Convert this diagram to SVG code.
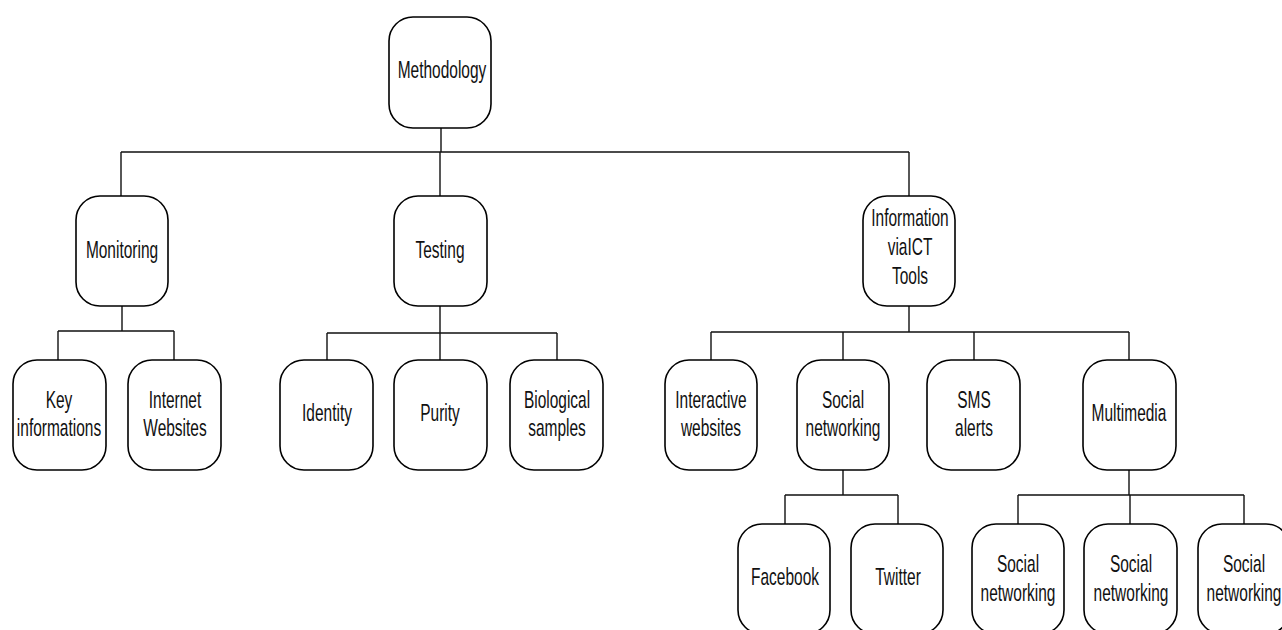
<svg xmlns="http://www.w3.org/2000/svg" width="1282" height="630" viewBox="0 0 1282 630">
<style>
.box{fill:#fff;stroke:#000;stroke-width:1.6}
.lbl{font-family:"Liberation Sans",Arial,sans-serif;font-size:24px;fill:#111;text-anchor:middle}
.conn{fill:none;stroke:#111;stroke-width:1.4}
</style>
<rect width="1282" height="630" fill="#fff"/>
<g id="connectors" class="conn">
<path d="M441 128V152M121 152H909M121 152V196M440 152V196M909 152V196"/>
<path d="M122 306V331M58 331H174M58 331V360M174 331V360"/>
<path d="M440 306V333M327 333H557M327 333V360M440 333V360M557 333V360"/>
<path d="M909 306V332M711 332H1129M711 332V360M843 332V360M974 332V360M1129 332V360"/>
<path d="M843 470V495M785 495H898M785 495V524M898 495V524"/>
<path d="M1129 470V495M1018 495H1244M1018 495V524M1130 495V524M1244 495V524"/>
</g>
<g id="methodology"><rect class="box" x="389" y="17" width="102" height="111" rx="24"/><text class="lbl" transform="translate(442 78) scale(0.645 1)">Methodology</text></g>
<g id="monitoring"><rect class="box" x="76" y="196" width="92" height="110" rx="24"/><text class="lbl" transform="translate(122 258) scale(0.645 1)">Monitoring</text></g>
<g id="testing"><rect class="box" x="394" y="196" width="93" height="110" rx="24"/><text class="lbl" transform="translate(440 258) scale(0.645 1)">Testing</text></g>
<g id="information"><rect class="box" x="863" y="196" width="92" height="110" rx="24"/><text class="lbl" transform="translate(910 226) scale(0.645 1)"><tspan x="0" y="0">Information</tspan><tspan x="0" y="29">viaICT</tspan><tspan x="0" y="58">Tools</tspan></text></g>
<g id="key-informations"><rect class="box" x="13" y="360" width="93" height="110" rx="24"/><text class="lbl" transform="translate(59 408) scale(0.645 1)"><tspan x="0" y="0">Key</tspan><tspan x="0" y="28">informations</tspan></text></g>
<g id="internet-websites"><rect class="box" x="128" y="360" width="93" height="110" rx="24"/><text class="lbl" transform="translate(175 408) scale(0.645 1)"><tspan x="0" y="0">Internet</tspan><tspan x="0" y="28">Websites</tspan></text></g>
<g id="identity"><rect class="box" x="280" y="360" width="93" height="110" rx="24"/><text class="lbl" transform="translate(327 421) scale(0.645 1)">Identity</text></g>
<g id="purity"><rect class="box" x="394" y="360" width="93" height="110" rx="24"/><text class="lbl" transform="translate(440 421) scale(0.645 1)">Purity</text></g>
<g id="biological-samples"><rect class="box" x="510" y="360" width="93" height="110" rx="24"/><text class="lbl" transform="translate(557 408) scale(0.645 1)"><tspan x="0" y="0">Biological</tspan><tspan x="0" y="28">samples</tspan></text></g>
<g id="interactive-websites"><rect class="box" x="665" y="360" width="92" height="110" rx="24"/><text class="lbl" transform="translate(711 408) scale(0.645 1)"><tspan x="0" y="0">Interactive</tspan><tspan x="0" y="28">websites</tspan></text></g>
<g id="social-networking"><rect class="box" x="797" y="360" width="92" height="110" rx="24"/><text class="lbl" transform="translate(843 408) scale(0.645 1)"><tspan x="0" y="0">Social</tspan><tspan x="0" y="28">networking</tspan></text></g>
<g id="sms-alerts"><rect class="box" x="927" y="360" width="93" height="110" rx="24"/><text class="lbl" transform="translate(974 408) scale(0.645 1)"><tspan x="0" y="0">SMS</tspan><tspan x="0" y="28">alerts</tspan></text></g>
<g id="multimedia"><rect class="box" x="1083" y="360" width="93" height="110" rx="24"/><text class="lbl" transform="translate(1129 421) scale(0.645 1)">Multimedia</text></g>
<g id="facebook"><rect class="box" x="738" y="524" width="92" height="110" rx="24"/><text class="lbl" transform="translate(785 585) scale(0.645 1)">Facebook</text></g>
<g id="twitter"><rect class="box" x="851" y="524" width="92" height="110" rx="24"/><text class="lbl" transform="translate(898 585) scale(0.645 1)">Twitter</text></g>
<g id="social-networking-1"><rect class="box" x="972" y="524" width="92" height="110" rx="24"/><text class="lbl" transform="translate(1018 572) scale(0.645 1)"><tspan x="0" y="0">Social</tspan><tspan x="0" y="29">networking</tspan></text></g>
<g id="social-networking-2"><rect class="box" x="1084" y="524" width="93" height="110" rx="24"/><text class="lbl" transform="translate(1131 572) scale(0.645 1)"><tspan x="0" y="0">Social</tspan><tspan x="0" y="29">networking</tspan></text></g>
<g id="social-networking-3"><rect class="box" x="1198" y="524" width="92" height="110" rx="24"/><text class="lbl" transform="translate(1244 572) scale(0.645 1)"><tspan x="0" y="0">Social</tspan><tspan x="0" y="29">networking</tspan></text></g>
</svg>
